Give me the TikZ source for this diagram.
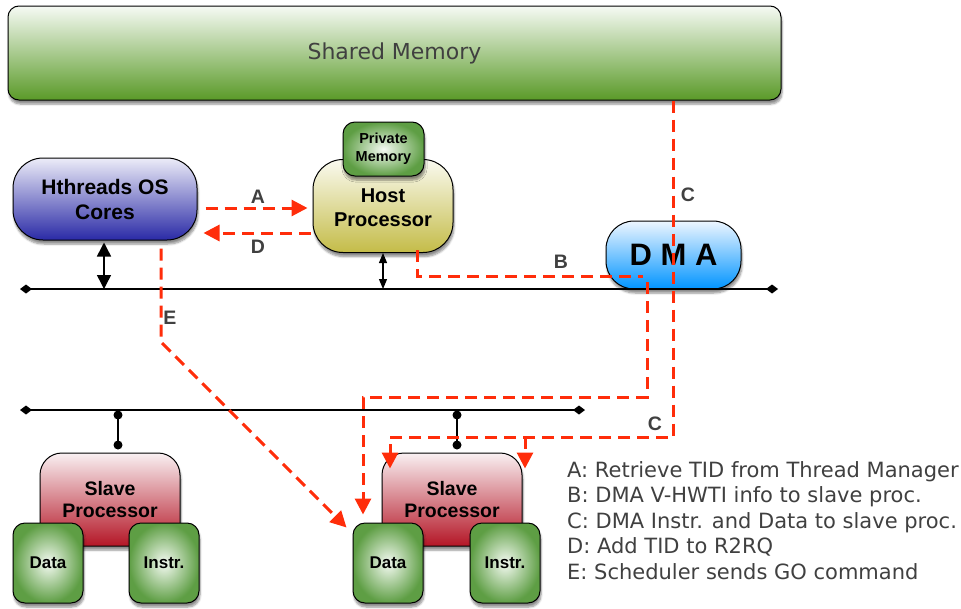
\documentclass[tikz,border=0pt]{standalone}
\usepackage{fontspec}
\setmainfont{Liberation Sans}
\newfontfamily\dejavu{DejaVu Sans}
\usetikzlibrary{arrows.meta,calc,shadows.blur}
\definecolor{redc}{RGB}{255,45,10}
\definecolor{lblgray}{HTML}{404040}
\definecolor{shmtop}{HTML}{F6FAF4}
\definecolor{shmbot}{HTML}{5A9A28}
\definecolor{hthtop}{HTML}{ECECF8}
\definecolor{hthbot}{HTML}{2A2AA6}
\definecolor{hosttop}{HTML}{FAFAF0}
\definecolor{hostbot}{HTML}{C4BC48}
\definecolor{dmatop}{HTML}{EEF6FF}
\definecolor{dmabot}{HTML}{0094FF}
\definecolor{slvtop}{HTML}{F9F0F2}
\definecolor{slvbot}{HTML}{B41626}
\definecolor{grin}{HTML}{F4FAF2}
\definecolor{grout}{HTML}{5E9E44}
\begin{document}
\begin{tikzpicture}[x=1pt,y=-1pt,
  shbox/.style={draw=black, line width=1pt, inner sep=0pt, align=center,
    font=\bfseries,
    blur shadow={shadow xshift=1pt, shadow yshift=-4pt, shadow blur steps=6, shadow opacity=45}},
  greenbox/.style={shbox, inner color=grin, outer color=grout, rounded corners=12pt},
  slavebox/.style={shbox, top color=slvtop, bottom color=slvbot, rounded corners=22pt,
    minimum width=140pt, minimum height=93pt, font=\bfseries\fontsize{19.5}{22}\selectfont},
  memcell/.style={greenbox, minimum width=70pt, minimum height=80pt, font=\bfseries\fontsize{17}{20}\selectfont},
  busline/.style={line width=1.3pt, {Diamond[length=12pt,width=9pt]}-{Diamond[length=12pt,width=9pt]}},
  rdash/.style={draw=redc, line width=3pt, dash pattern=on 12pt off 7pt},
  rarrow/.style={rdash, -{Triangle[length=16pt,width=16pt]}},
  lbl/.style={text=lblgray, font=\bfseries\fontsize{19.5}{22}\selectfont, inner sep=0pt},
  legend/.style={text=lblgray, font=\dejavu\fontsize{21}{25}\selectfont, anchor=base west, inner sep=0pt}
]
\useasboundingbox (0,0) rectangle (961,608);

% Shared memory
\node[shbox, top color=shmtop, bottom color=shmbot, rounded corners=11pt,
  minimum width=773pt, minimum height=94pt,
  font=\dejavu\mdseries\fontsize{22}{24}\selectfont, text=lblgray] (shm) at (394.5,53) {Shared Memory};

% Hthreads
\node[shbox, top color=hthtop, bottom color=hthbot, rounded corners=30pt,
  minimum width=184pt, minimum height=82pt, font=\bfseries\fontsize{21}{25}\selectfont] (hth) at (105,199) {Hthreads OS\\Cores};

% Host processor and private memory
\node[shbox, top color=hosttop, bottom color=hostbot, rounded corners=30pt,
  minimum width=140pt, minimum height=93pt, font=\bfseries\fontsize{20}{24}\selectfont] (host) at (383,206) {\\[-6pt]Host\\Processor};
\node[greenbox, minimum width=81pt, minimum height=54pt, font=\bfseries\fontsize{14.5}{18}\selectfont] (pmem) at (383.5,149) {Private\\Memory};

% DMA
\node[shbox, top color=dmatop, bottom color=dmabot, rounded corners=28pt,
  minimum width=135pt, minimum height=68pt, font=\bfseries\fontsize{31}{34}\selectfont] (dma) at (673.5,255) {D M A};

% Buses
\coordinate (bus1l) at (20,289);
\coordinate (bus1r) at (778,289);
\coordinate (bus2l) at (20,410);
\coordinate (bus2r) at (585,410);
\draw[busline] (bus1l) -- (bus1r);
\draw[busline] (bus2l) -- (bus2r);

% double arrows to bus 1
\draw[line width=1.5pt, {Triangle[length=14pt,width=14pt]}-{Triangle[length=14pt,width=14pt]}]
  ($(hth.south)+(-1,2)$) -- (bus1l -| 104,0);
\draw[line width=1.1pt, {Triangle[length=10pt,width=8pt]}-{Triangle[length=10pt,width=8pt]}]
  (host.south) -- (bus1l -| 383,0);

% Slave processors
\node[slavebox] (slave1) at (110,499.5) {Slave\\Processor};
\node[slavebox] (slave2) at (452,499.5) {Slave\\Processor};
\node[memcell] (data1) at (48,563) {Data};
\node[memcell] (instr1) at (164,563) {Instr.};
\node[memcell] (data2) at (388,563) {Data};
\node[memcell] (instr2) at (505,563) {Instr.};

% taps from bus 2
\coordinate (tap1a) at (118,415);
\coordinate (tap1b) at (118,445);
\coordinate (tap2a) at (457,415);
\coordinate (tap2b) at (457,445);
\draw[line width=1.2pt] (tap1a) -- (tap1b);
\draw[line width=1.2pt] (tap2a) -- (tap2b);
\fill (tap1a) circle (4.5pt) (tap1b) circle (4.5pt);
\fill (tap2a) circle (4.5pt) (tap2b) circle (4.5pt);

% Red dashed connectors
% A
\draw[rarrow] ($(hth.east)+(8,9)$) -- ($(host.west)+(-5,2)$);
% D
\draw[rarrow] ($(host.west)+(-2,27)$) -- ($(hth.east)+(6,34)$);
% E
\coordinate (ebend) at (161,342);
\draw[rarrow] ($(hth.south)+(56,8)$) -- (ebend) -- ($(data2.north west)+(-6,5)$);
% B
\coordinate (bcorner) at (417,276);
\draw[rdash] ($(host.south)+(34,-3)$) -- (bcorner) -- ($(dma.center)+(-30.5,21)$);
\coordinate (bdown) at (647,397);
\draw[rarrow] ($(dma.center)+(-26.5,27)$) -- (bdown) -- (bdown -| 363,0) -- ($(data2.north)+(-25,-8)$);
% C
\coordinate (cleft) at (390,437);
\coordinate (cright) at (673.5,437);
\coordinate (cbranch) at (525,437);
\draw[rarrow] (dma.center |- shm.south) -- (cright) -- (cleft) -- ($(slave2.north)+(-62,16)$);
\draw[rarrow] (cbranch) -- ($(slave2.north)+(73,16)$);

% labels
\node[lbl] (lA) at (258,197) {A};
\node[lbl] (lD) at (258,247) {D};
\node[lbl] (lB) at (561,262) {B};
\node[lbl] (lC1) at (688,195) {C};
\node[lbl] (lC2) at (655,424) {C};
\node[lbl] (lE) at (170,318) {E};

% legend
\node[legend] (leg1) at (567,477) {A: Retrieve TID from Thread Manager};
\node[legend] (leg2) at (567,502.5) {B: DMA V-HWTI info to slave proc.};
\node[legend] (leg3) at (567,528) {C: DMA Instr. and Data to slave proc.};
\node[legend] (leg4) at (567,553.5) {D: Add TID to R2RQ};
\node[legend] (leg5) at (567,579) {E: Scheduler sends GO command};
\end{tikzpicture}
\end{document}
